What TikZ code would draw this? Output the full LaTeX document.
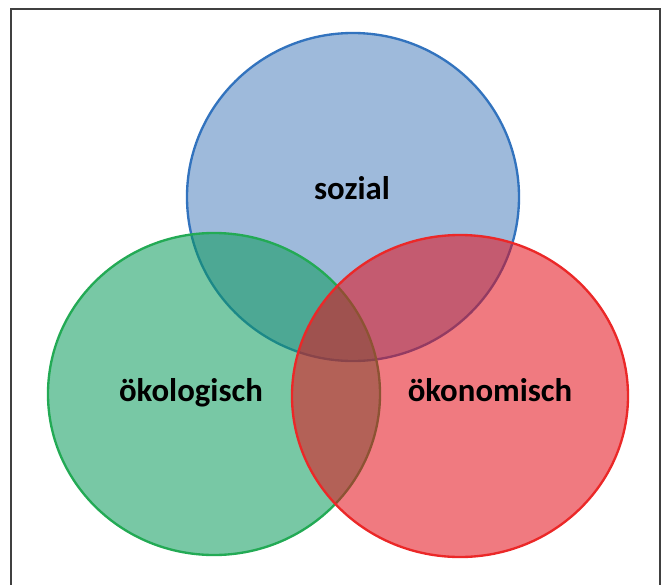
\documentclass[tikz,border=0pt]{standalone}
\usepackage{fontspec}
\setmainfont{Carlito}
\usetikzlibrary{shapes.geometric}

\definecolor{sozBlue}{RGB}{79,129,189}
\definecolor{sozLine}{RGB}{50,115,190}
\definecolor{oekGreen}{RGB}{10,155,91}
\definecolor{oekLine}{RGB}{35,170,85}
\definecolor{oekRed}{RGB}{228,13,24}
\definecolor{oekRedLine}{RGB}{235,40,40}

\begin{document}
\begin{tikzpicture}[
    x=0.03cm, y=-0.03cm,
    venn/.style={ellipse, draw, line width=2pt, fill opacity=0.55, draw opacity=1,
                 inner sep=0pt, outer sep=0pt},
    lbl/.style={font=\fontsize{28}{34}\selectfont\bfseries, text=black, inner sep=0pt}
]
\useasboundingbox (0,0) rectangle (667,585);

% frame
\draw[line width=1.5pt, black!75] (11,9) rectangle (660,600);

% the three sets, blue below, red on top
\node[venn, fill=sozBlue, draw=sozLine, minimum width=9.96cm, minimum height=9.84cm]
    (soz) at (353,197) {};
\node[venn, fill=oekGreen, draw=oekLine, minimum width=9.96cm, minimum height=9.66cm]
    (oeko) at (214,394) {};
\node[venn, fill=oekRed, draw=oekRedLine, minimum width=10.08cm, minimum height=9.66cm]
    (oekn) at (460,396) {};

\node[lbl, anchor=base] (sozl) at (352,199) {sozial};
\node[lbl, anchor=base] (oekol) at (191,401) {ökologisch};
\node[lbl, anchor=base] (oeknl) at (490,401) {ökonomisch};

\end{tikzpicture}
\end{document}
